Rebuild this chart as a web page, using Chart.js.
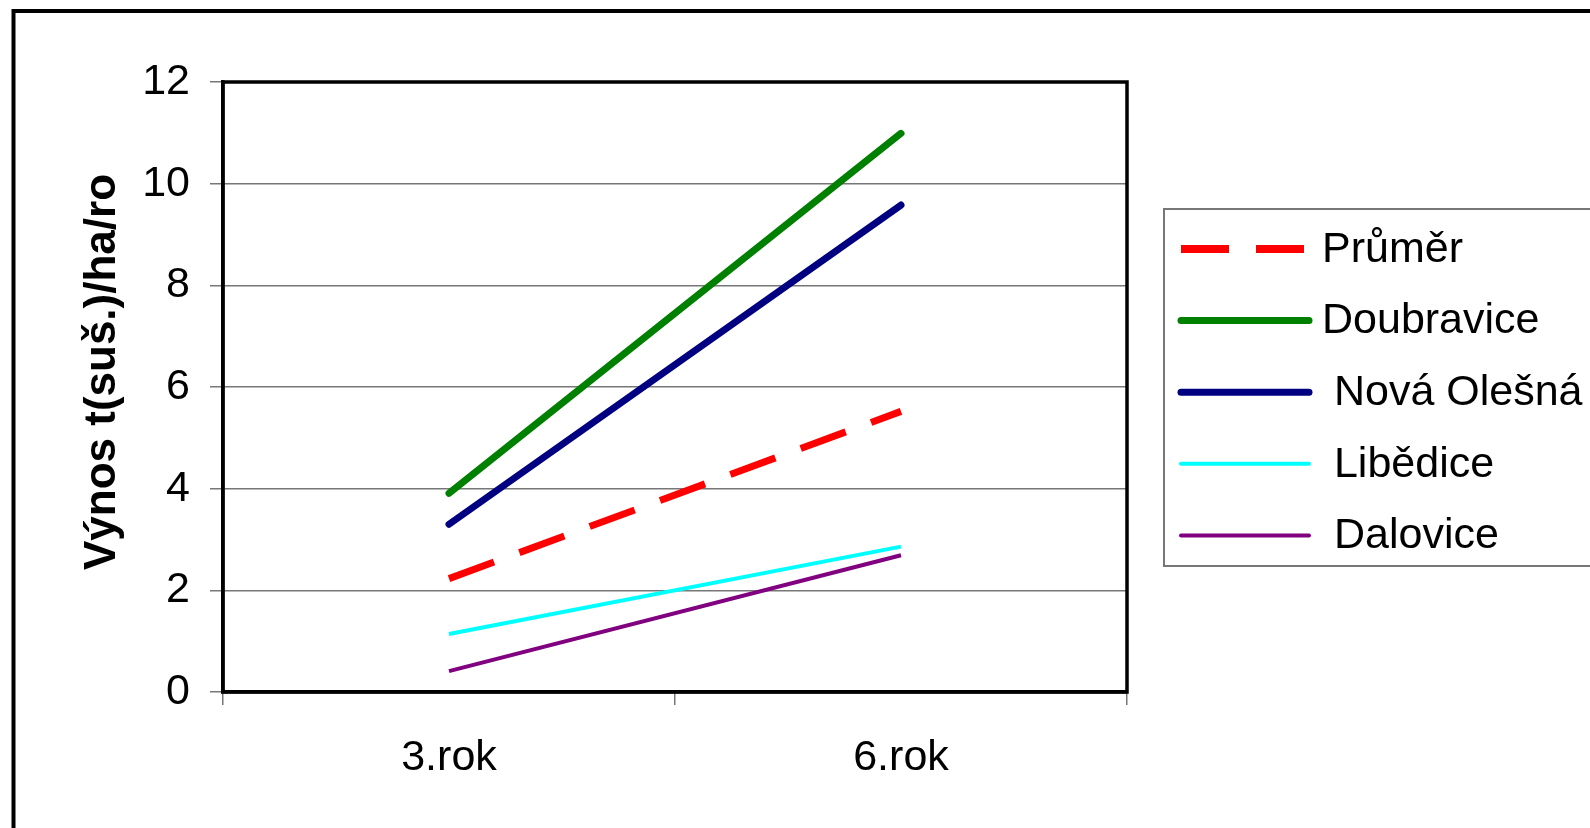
<!DOCTYPE html>
<html>
<head>
<meta charset="utf-8">
<script src="https://cdn.jsdelivr.net/npm/chart.js@4.4.1/dist/chart.umd.min.js"></script>
<style>
  html, body { margin: 0; padding: 0; background: #fff; overflow: hidden; }
  #wrap { width: 1590px; height: 828px; position: relative; }
</style>
</head>
<body>
<div id="wrap"><canvas id="chart" width="1590" height="828"></canvas></div>
<script>
const categories = ['3.rok', '6.rok'];
const seriesNames = ['Průměr', 'Doubravice', ' Nová Olešná', ' Libědice', ' Dalovice'];
const prumer = [2.23, 5.52];
const doubravice = [3.91, 10.99];
const novaOlesna = [3.30, 9.58];
const libedice = [1.14, 2.86];
const dalovice = [0.41, 2.69];
const yTicks = [0, 2, 4, 6, 8, 10, 12];
const yTitle = 'Výnos t(suš.)/ha/ro';

const FONT = "'Liberation Sans', Arial, sans-serif";

// plot frame, outer border, rotated axis title and the boxed legend
const decorations = {
    id: 'decorations',
    beforeDraw(chart) {
        const ctx = chart.ctx;
        ctx.save();
        ctx.fillStyle = '#fff';
        ctx.fillRect(0, 0, chart.width, chart.height);
        ctx.restore();
    },
    afterDraw(chart) {
        const ctx = chart.ctx;
        const a = chart.chartArea;
        ctx.save();
        // plot area frame
        ctx.strokeStyle = '#000';
        ctx.lineWidth = 3.5;
        ctx.strokeRect(a.left, a.top, a.right - a.left, a.bottom - a.top);

        // outer border (runs off the right and bottom of the picture)
        ctx.lineWidth = 4;
        ctx.beginPath();
        ctx.moveTo(13.5, chart.height + 10);
        ctx.lineTo(13.5, 11);
        ctx.lineTo(chart.width + 10, 11);
        ctx.stroke();

        // y axis title
        ctx.save();
        ctx.translate(101, 372);
        ctx.rotate(-Math.PI / 2);
        ctx.font = 'bold 44px ' + FONT;
        ctx.textAlign = 'center';
        ctx.textBaseline = 'middle';
        ctx.fillStyle = '#000';
        ctx.fillText(yTitle, 0, 2);
        ctx.restore();

        // legend
        const lx = 1164, ly = 209, lh = 357;
        ctx.lineWidth = 2;
        ctx.strokeStyle = '#777';
        ctx.strokeRect(lx, ly, chart.width, lh);
        ctx.font = '43px ' + FONT;
        ctx.textBaseline = 'middle';
        ctx.fillStyle = '#000';
        chart.data.datasets.forEach((ds, i) => {
            const y = 249 + i * 71.6;
            ctx.beginPath();
            ctx.strokeStyle = ds.borderColor;
            ctx.lineWidth = ds.borderDash ? 8 : ds.borderWidth;
            ctx.lineCap = ds.borderDash ? 'butt' : 'round';
            ctx.setLineDash(ds.borderDash || []);
            if (ds.borderDash) {
                ctx.moveTo(1181, y);
                ctx.lineTo(1306, y);
            } else {
                ctx.moveTo(1181, y);
                ctx.lineTo(1309, y);
            }
            ctx.stroke();
            ctx.setLineDash([]);
            ctx.fillText(ds.label, 1322, y + 1);
        });
        ctx.restore();
    }
};

new Chart(document.getElementById('chart'), {
    type: 'line',
    data: {
        labels: categories,
        datasets: [
            { label: seriesNames[0], data: prumer, borderColor: '#ff0000', borderWidth: 7, borderDash: [48, 27], borderCapStyle: 'butt' },
            { label: seriesNames[1], data: doubravice, borderColor: '#008000', borderWidth: 7, borderCapStyle: 'round' },
            { label: seriesNames[2], data: novaOlesna, borderColor: '#000080', borderWidth: 7, borderCapStyle: 'round' },
            { label: seriesNames[3], data: libedice, borderColor: '#00ffff', borderWidth: 4, borderCapStyle: 'butt' },
            { label: seriesNames[4], data: dalovice, borderColor: '#800080', borderWidth: 4, borderCapStyle: 'butt' }
        ]
    },
    options: {
        responsive: false,
        animation: false,
        devicePixelRatio: 1,
        layout: { padding: { left: 0, top: 82, right: 463, bottom: 0 } },
        elements: {
            point: { radius: 0 },
            line: { tension: 0 }
        },
        plugins: {
            legend: { display: false },
            tooltip: { enabled: false }
        },
        scales: {
            x: {
                offset: true,
                grid: { offset: true, drawOnChartArea: false, color: '#777', lineWidth: 1.5, tickLength: 13 },
                border: { color: '#000', width: 3.5 },
                ticks: { font: { family: FONT, size: 43 }, color: '#000', padding: 27 },
                afterFit(scale) { scale.height = 828 - 692; }
            },
            y: {
                min: 0,
                max: 12,
                afterBuildTicks(scale) { scale.ticks = yTicks.map(v => ({ value: v })); },
                grid: { color: '#777', lineWidth: 1.5, tickLength: 13 },
                border: { color: '#000', width: 3.5 },
                ticks: { font: { family: FONT, size: 43 }, color: '#000', padding: 20 },
                afterFit(scale) { scale.width = 223; }
            }
        }
    },
    plugins: [decorations]
});
</script>
</body>
</html>
